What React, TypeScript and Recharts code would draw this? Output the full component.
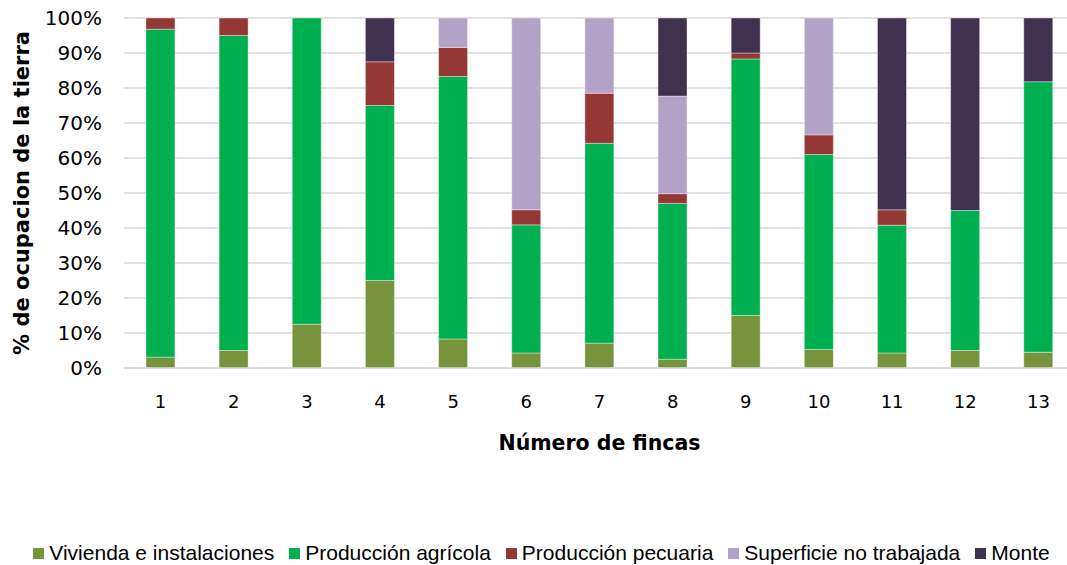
import { BarChart, Bar, XAxis, YAxis, CartesianGrid, Legend } from 'recharts'

const fincas = ['1', '2', '3', '4', '5', '6', '7', '8', '9', '10', '11', '12', '13']

const vivienda = [3.1, 5, 12.5, 25, 8.3, 4.3, 7.1, 2.5, 15, 5.3, 4.3, 5, 4.5]
const agricola = [93.7, 90, 87.5, 50, 75, 36.6, 57.1, 44.5, 73.3, 55.7, 36.5, 40, 77.3]
const pecuaria = [3.2, 5, 0, 12.5, 8.3, 4.3, 14.3, 2.8, 1.7, 5.6, 4.4, 0, 0]
const noTrabajada = [0, 0, 0, 0, 8.4, 54.8, 21.5, 27.9, 0, 33.4, 0, 0, 0]
const monte = [0, 0, 0, 12.5, 0, 0, 0, 22.3, 10, 0, 54.8, 55, 18.2]

const yTicks = [0, 0.1, 0.2, 0.3, 0.4, 0.5, 0.6, 0.7, 0.8, 0.9, 1]

const series = [
  { key: 'viv', name: 'Vivienda e instalaciones', color: '#77933C', values: vivienda },
  { key: 'agr', name: 'Producción agrícola', color: '#00B050', values: agricola },
  { key: 'pec', name: 'Producción pecuaria', color: '#953735', values: pecuaria },
  { key: 'sup', name: 'Superficie no trabajada', color: '#B3A2C7', values: noTrabajada },
  { key: 'mon', name: 'Monte', color: '#403151', values: monte },
]

const data = fincas.map((f, i) => {
  const row: Record<string, string | number> = { finca: f }
  series.forEach((s) => {
    row[s.key] = s.values[i]
  })
  return row
})

const titleFont = '"DejaVu Sans", Verdana, sans-serif'

function YTitle(props: any) {
  const vb = props.viewBox || {}
  const cx = 22
  const cy = vb.y + vb.height / 2
  return (
    <text
      x={cx}
      y={cy}
      transform={`rotate(-90, ${cx}, ${cy})`}
      textAnchor="middle"
      dominantBaseline="central"
      fontFamily={titleFont}
      fontWeight="bold"
      fontSize={21}
      fill="#000"
    >
      % de ocupacion de la tierra
    </text>
  )
}

function LegendBox() {
  return (
    <div
      style={{
        display: 'flex',
        justifyContent: 'center',
        alignItems: 'center',
        height: 30,
        fontFamily: '"Liberation Sans", Arial, sans-serif',
        fontSize: 21,
        color: '#000',
        whiteSpace: 'nowrap',
      }}
    >
      {series.map((s, i) => (
        <span
          key={s.key}
          style={{ display: 'flex', alignItems: 'center', marginRight: i < series.length - 1 ? 15 : 0 }}
        >
          <span style={{ width: 11, height: 11, background: s.color, marginRight: 5 }} />
          {s.name}
        </span>
      ))}
    </div>
  )
}

export default function App() {
  return (
    <div
      style={{
        position: 'fixed',
        left: 0,
        top: 0,
        width: 1067,
        height: 565,
        overflow: 'hidden',
        background: '#fff',
      }}
    >
      <BarChart
        width={1090}
        height={565}
        data={data}
        stackOffset="expand"
        barCategoryGap="30%"
        margin={{ top: 18, right: 15, left: 0, bottom: 0 }}
      >
        <CartesianGrid vertical={false} stroke="#d9d9d9" strokeWidth={1.5} />
        <XAxis
          dataKey="finca"
          height={167}
          tickLine={false}
          tickSize={0}
          tickMargin={27}
          axisLine={{ stroke: '#d9d9d9', strokeWidth: 1.5 }}
          tick={{ fill: '#000', fontSize: 18, fontFamily: titleFont }}
          label={{
            value: 'Número de fincas',
            position: 'insideTop',
            offset: 67,
            fill: '#000',
            fontSize: 20.5,
            fontWeight: 'bold',
            fontFamily: titleFont,
          }}
        />
        <YAxis
          width={124}
          domain={[0, 1]}
          ticks={yTicks}
          tickFormatter={(v: number) => `${Math.round(v * 100)}%`}
          tickLine={false}
          tickSize={0}
          tickMargin={22}
          axisLine={false}
          tick={{ fill: '#000', fontSize: 20, fontFamily: titleFont }}
          label={<YTitle />}
        />
        <Legend
          verticalAlign="bottom"
          content={() => <LegendBox />}
          wrapperStyle={{ left: 0, width: 1083, bottom: -3 }}
        />
        {series.map((s) => (
          <Bar
            key={s.key}
            dataKey={s.key}
            name={s.name}
            stackId="a"
            fill={s.color}
            stroke="#ffffff"
            strokeOpacity={0.5}
            strokeWidth={0.75}
            isAnimationActive={false}
          />
        ))}
      </BarChart>
    </div>
  )
}
